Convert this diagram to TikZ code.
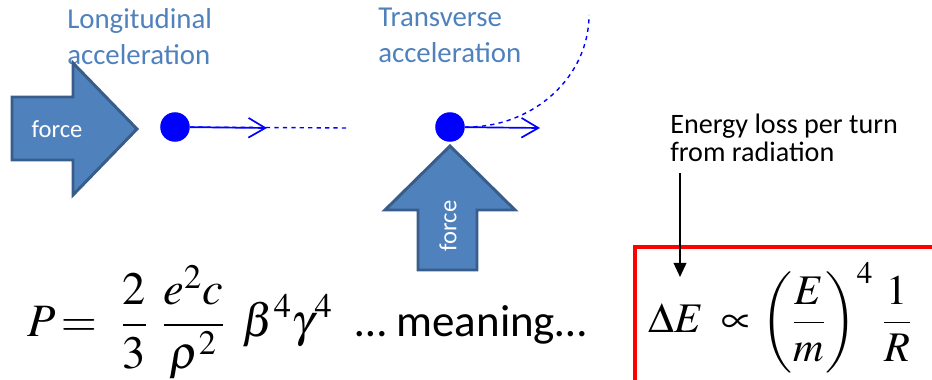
\documentclass[tikz,border=0pt]{standalone}
\usepackage{mathptmx}
\usepackage[no-math]{fontspec}
\setmainfont{Carlito}
\usetikzlibrary{arrows.meta}
\definecolor{forceBlue}{RGB}{79,129,189}
\definecolor{forceEdge}{RGB}{56,93,138}
\definecolor{pathBlue}{RGB}{0,0,255}
\definecolor{boxRed}{RGB}{255,0,0}

\begin{document}
\begin{tikzpicture}[x=0.025cm,y=-0.025cm,
  every node/.style={inner sep=0pt},
  bigarrow/.style={fill=forceBlue,draw=forceEdge,line width=2.1pt,line join=miter},
  caption/.style={text=forceBlue,font=\fontsize{20.5}{25.5}\selectfont,align=left,anchor=north west},
  forcelabel/.style={text=white,font=\fontsize{17.5}{20}\selectfont},
  particle/.style={circle,fill=pathBlue,minimum size=21pt},
  motion/.style={pathBlue,line width=1.2pt,-{Straight Barb[length=12pt,width=14pt]}},
  trail/.style={pathBlue,line width=1pt,dashed}]
\useasboundingbox (0,0) rectangle (932,380);

% longitudinal push
\node[caption] (longcap) at (67,8) {Longitudinal\\acceleration};
\draw[bigarrow] (12,97) -- (73,97) -- (73,63) -- (137,129) -- (73,195) -- (73,160) -- (12,160) -- cycle;
\node[forcelabel] (longforce) at (57,129) {force};
\node[particle] (p1) at (175,127) {};
\coordinate (p1tip) at (267,128);
\coordinate (p1end) at (348,128);
\draw[trail] (p1) -- (p1end);
\draw[motion] (p1) -- (p1tip);

% transverse push
\node[caption] (transcap) at (378,8) {Transverse\\acceleration};
\node[particle] (p2) at (450,127) {};
\coordinate (p2tip) at (540,128);
\coordinate (p2end) at (589,15);
\draw[trail] (p2.east) .. controls (533,128) and (589,77) .. (p2end);
\draw[motion] (p2) -- (p2tip);
\draw[bigarrow] (418,270) -- (418,210) -- (385,210) -- (450,146) -- (515,210) -- (477,210) -- (477,270) -- cycle;
\node[forcelabel,rotate=90] (transforce) at (448,226) {force};

% formulas
\node[font=\fontsize{33}{40}\selectfont,anchor=west] (power) at (27,322) {$\displaystyle P\!=\hspace{10pt}\frac{2}{3}\hspace{10pt}\frac{e^2c}{\rho^2}\hspace{13pt}\beta^4\gamma^4$};
\node[font=\fontsize{32}{38}\selectfont,anchor=base west] (meaning) at (355,336) {… meaning…};
\draw[boxRed,line width=3pt] (635,390) -- (635,247) -- (940,247);
\node[font=\fontsize{30}{36}\selectfont] (eloss) at (780,318) {$\displaystyle \Delta E\;\propto\left(\frac{E}{m}\right)^{4}\,\frac{1}{R}$};
\node[font=\fontsize{20}{19.5}\selectfont,align=left,anchor=north west] (losscap) at (670,114) {Energy loss per turn\\from radiation};
\coordinate (lossstart) at (680,173);
\coordinate (losstip) at (680,277);
\draw[line width=1.3pt,-{Triangle[length=10pt,width=9pt]}] (lossstart) -- (losstip);
\end{tikzpicture}
\end{document}
